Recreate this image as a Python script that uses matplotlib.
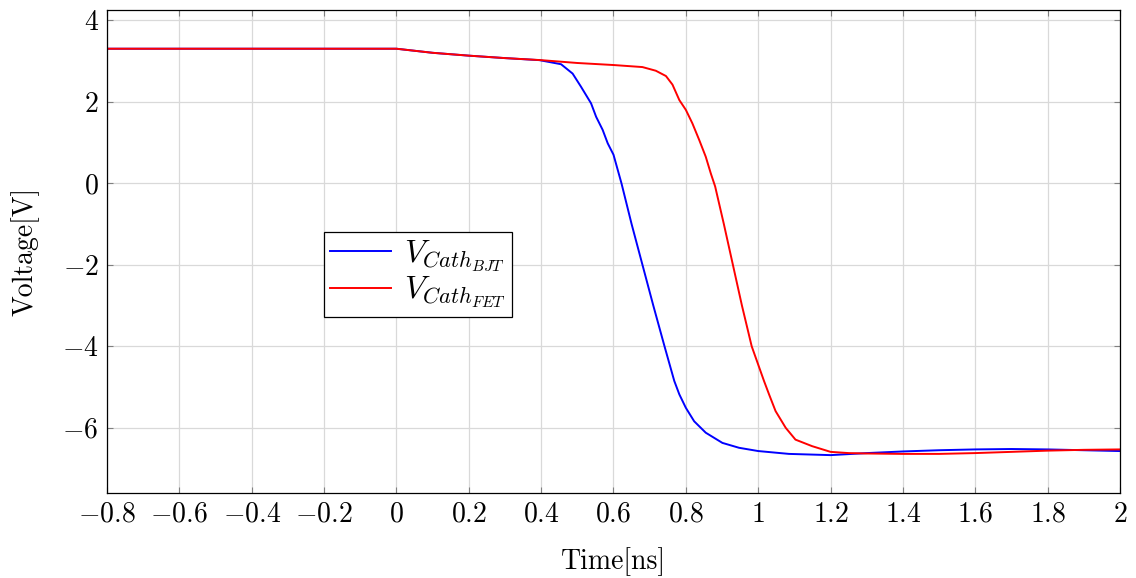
import matplotlib
matplotlib.use("Agg")
import matplotlib.pyplot as plt

plt.rcParams['font.family'] = 'cmr10'
plt.rcParams['mathtext.fontset'] = 'cm'
plt.rcParams['axes.formatter.use_mathtext'] = True
plt.rcParams['font.size'] = 20

# cathode voltage, BJT driver
t_bjt = [-0.8, 0.0, 0.1, 0.2, 0.3, 0.395, 0.455, 0.487, 0.51, 0.538, 0.552, 0.57,
         0.584, 0.6, 0.622, 0.65, 0.68, 0.71, 0.741, 0.768, 0.782, 0.8,
         0.823, 0.855, 0.901, 0.947, 1.0, 1.085, 1.2, 1.3, 1.4, 1.5, 1.6, 1.7,
         1.8, 1.9, 2.0]
v_bjt = [3.3, 3.3, 3.2, 3.13, 3.07, 3.02, 2.92, 2.69, 2.37, 1.96, 1.63, 1.31,
         0.98, 0.7, 0.0, -1.0, -2.0, -3.0, -4.0, -4.85, -5.18, -5.51,
         -5.84, -6.12, -6.37, -6.49, -6.57, -6.64, -6.67, -6.62, -6.58, -6.55,
         -6.53, -6.52, -6.53, -6.55, -6.57]

# cathode voltage, FET driver
t_fet = [-0.8, 0.0, 0.1, 0.2, 0.3, 0.4, 0.5, 0.6, 0.68, 0.717, 0.745, 0.763,
         0.782, 0.8, 0.818, 0.837, 0.855, 0.869, 0.881, 0.905, 0.93, 0.955,
         0.982, 1.0, 1.016, 1.03, 1.048, 1.076, 1.103, 1.149, 1.2, 1.25, 1.3,
         1.4, 1.5, 1.6, 1.7, 1.8, 1.9, 2.0]
v_fet = [3.3, 3.3, 3.2, 3.13, 3.07, 3.02, 2.95, 2.9, 2.85, 2.76, 2.63, 2.42,
         2.04, 1.8, 1.47, 1.06, 0.65, 0.24, -0.08, -1.0, -2.0, -3.0,
         -4.0, -4.45, -4.85, -5.18, -5.59, -6.0, -6.29, -6.45, -6.59, -6.62, -6.63,
         -6.64, -6.64, -6.62, -6.59, -6.56, -6.54, -6.53]

x_ticks = [-0.8, -0.6, -0.4, -0.2, 0, 0.2, 0.4, 0.6, 0.8, 1, 1.2, 1.4, 1.6, 1.8, 2]
x_labels = ['$-0.8$', '$-0.6$', '$-0.4$', '$-0.2$', '$0$', '$0.2$', '$0.4$',
            '$0.6$', '$0.8$', '$1$', '$1.2$', '$1.4$', '$1.6$', '$1.8$', '$2$']
y_ticks = [-6, -4, -2, 0, 2, 4]
y_labels = ['$-6$', '$-4$', '$-2$', '$0$', '$2$', '$4$']

fig = plt.figure(figsize=(11.36, 5.78), dpi=100)
ax = fig.add_axes([0.0942, 0.147, 0.8917, 0.8357])

ax.plot(t_bjt, v_bjt, color='blue', lw=1.4, label=r'$V_{Cath_{BJT}}$')
ax.plot(t_fet, v_fet, color='red', lw=1.4, label=r'$V_{Cath_{FET}}$')

ax.set_xlim(-0.8, 2)
ax.set_ylim(-7.6, 4.25)
ax.set_xticks(x_ticks)
ax.set_xticklabels(x_labels)
ax.set_yticks(y_ticks)
ax.set_yticklabels(y_labels)
ax.grid(True, color='#d9d9d9', lw=0.9)
ax.set_axisbelow(True)
ax.tick_params(direction='in', length=4, color='#808080', top=True, right=True,
               labelsize=20, pad=6)
for s in ax.spines.values():
    s.set_linewidth(0.9)

ax.set_xlabel('Time[ns]', fontsize=20, labelpad=14)
ax.set_ylabel('Voltage[V]', fontsize=20, labelpad=16)

leg = ax.legend(loc='upper left', bbox_to_anchor=(0.214, 0.54), borderaxespad=0,
                fontsize=23, fancybox=False, edgecolor='black', framealpha=1,
                handlelength=1.9, borderpad=0.2, labelspacing=0.05, handletextpad=0.4)
leg.get_frame().set_linewidth(0.9)

fig.savefig('out.png', dpi=100)
